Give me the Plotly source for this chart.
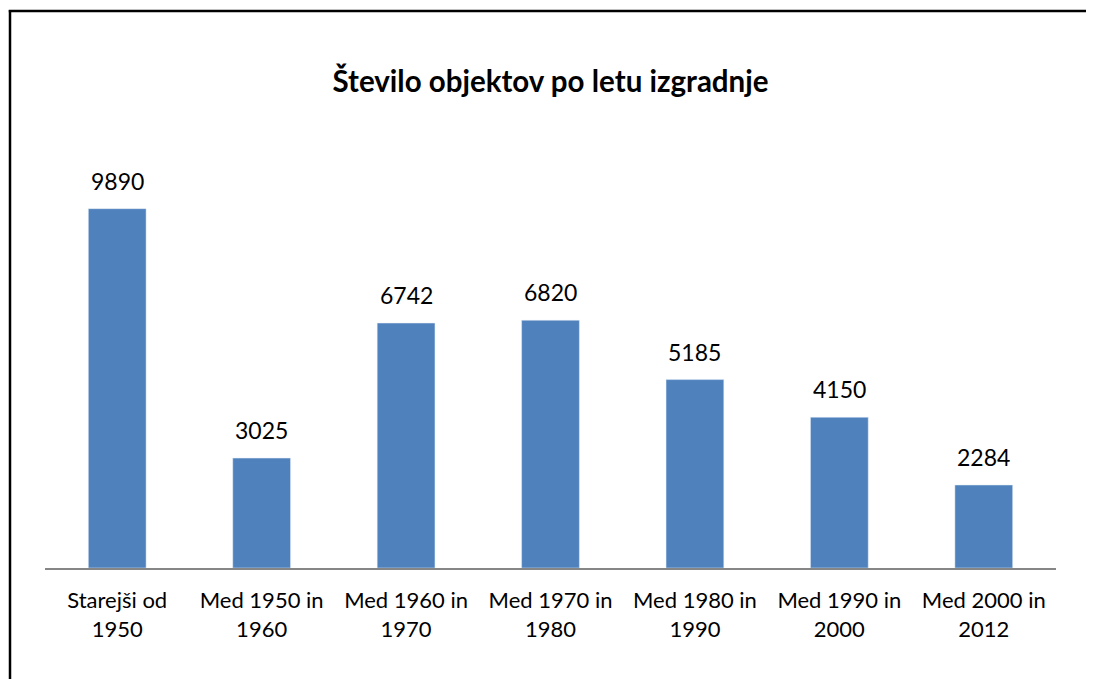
import plotly.graph_objects as go

categories = ["Starejši od<br>1950", "Med 1950 in<br>1960", "Med 1960 in<br>1970",
              "Med 1970 in<br>1980", "Med 1980 in<br>1990", "Med 1990 in<br>2000",
              "Med 2000 in<br>2012"]
values = [9890, 3025, 6742, 6820, 5185, 4150, 2284]
title = "Število objektov po letu izgradnje"

OFF = 8  # page body margin
W, H = 1094, 679
L, R, T, B = 45 - OFF, 1094 - 1056 + OFF, 132 - OFF, 679 - 568 + OFF
pw, ph = W - L - R, H - T - B

fig = go.Figure(go.Bar(
    x=categories, y=values, marker_color="#4F81BD",
))

for c, v in zip(categories, values):
    fig.add_annotation(x=c, y=v, text=str(v), showarrow=False, yanchor="bottom",
                       yshift=12, font=dict(size=23, color="black", family="Lato"))

def px_x(p):
    return (p - OFF - L) / pw

def px_y(p):
    return (H - B - (p - OFF)) / ph

frame = dict(color="black", width=2.5)
fig.update_layout(
    width=W, height=H,
    margin=dict(l=L, r=R, t=T, b=B),
    plot_bgcolor="white", paper_bgcolor="white",
    bargap=0.6,
    showlegend=False,
    title=dict(text="<b>" + title + "</b>", x=0.5, xref="paper", xanchor="center",
               y=1 - (82 - OFF) / H, yanchor="middle",
               font=dict(size=29.5, color="black", family="Lato")),
    xaxis=dict(showline=True, linecolor="#868686", linewidth=1.5, ticks="",
               ticklabelstandoff=12,
               tickfont=dict(size=22, color="black", family="Lato"), showgrid=False),
    yaxis=dict(range=[0, 12000], visible=False, showgrid=False),
    shapes=[
        dict(type="line", xref="paper", yref="paper",
             x0=px_x(8.8), x1=px_x(1200), y0=px_y(11), y1=px_y(11), line=frame, layer="above"),
        dict(type="line", xref="paper", yref="paper",
             x0=px_x(10), x1=px_x(10), y0=px_y(10), y1=px_y(800), line=frame, layer="above"),
    ],
)

fig.write_html("out.html")
